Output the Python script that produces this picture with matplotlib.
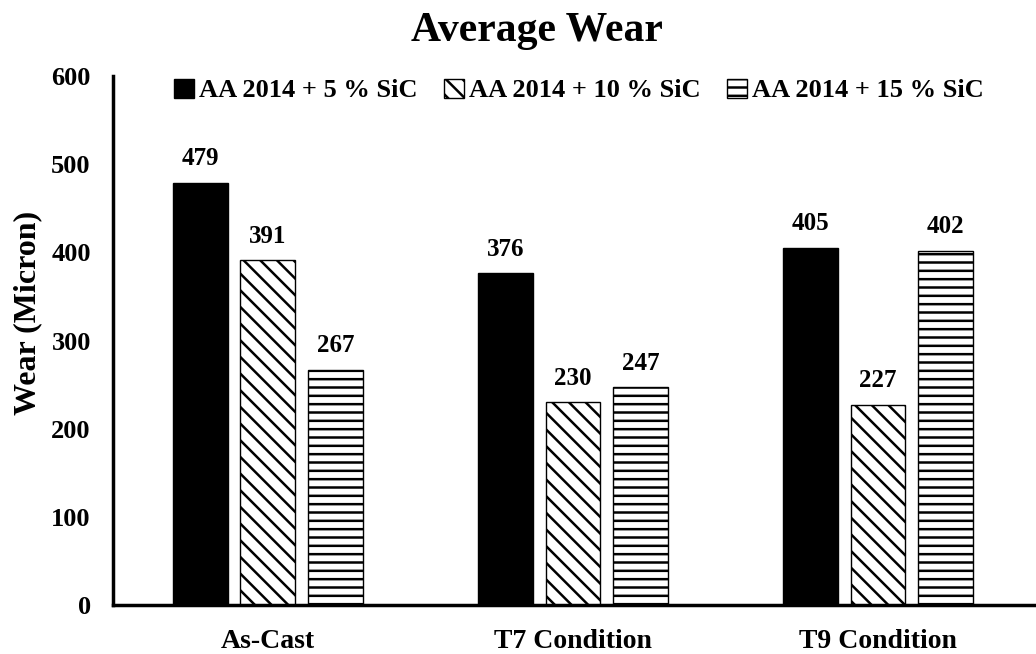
import matplotlib
matplotlib.use("Agg")
import matplotlib.pyplot as plt
import numpy as np

conditions = ["As-Cast", "T7 Condition", "T9 Condition"]
series_names = ["AA 2014 + 5 % SiC", "AA 2014 + 10 % SiC", "AA 2014 + 15 % SiC"]
wear_5 = [479, 376, 405]
wear_10 = [391, 230, 227]
wear_15 = [267, 247, 402]

plt.rcParams["font.family"] = ["Liberation Serif", "DejaVu Serif"]
plt.rcParams["font.weight"] = "bold"
plt.rcParams["hatch.linewidth"] = 1.8

fig = plt.figure(figsize=(10.36, 6.54), dpi=100)
ax = fig.add_axes([113 / 1036, 49 / 654, 1 - 113 / 1036, 529 / 654])

x = np.arange(len(conditions))
width = 0.18
step = 0.222
styles = [
    dict(color="black", edgecolor="black"),
    dict(color="white", edgecolor="black", hatch="\\\\", linewidth=1.0),
    dict(color="white", edgecolor="black", hatch="--", linewidth=1.0),
]
for i, (vals, name) in enumerate(zip([wear_5, wear_10, wear_15], series_names)):
    bars = ax.bar(x + (i - 1) * step, vals, width, label=name, **styles[i])
    ax.bar_label(bars, padding=9, fontsize=18, fontweight="bold")

ax.set_xlim(-0.508, 2.518)
ax.set_ylim(0, 600)
ax.set_yticks(range(0, 601, 100))
ax.set_xticks(x)
ax.set_xticklabels(conditions)
ax.tick_params(axis="y", length=0, labelsize=19, pad=16)
ax.tick_params(axis="x", length=0, labelsize=20, pad=17)
for lab in ax.get_xticklabels() + ax.get_yticklabels():
    lab.set_fontweight("bold")
ax.spines["top"].set_visible(False)
ax.spines["right"].set_visible(False)
ax.spines["left"].set_linewidth(2.5)
ax.spines["bottom"].set_linewidth(2.5)

fig.text(28 / 1036, 1 - 313 / 654, "Wear (Micron)", rotation=90, ha="center",
         va="center", fontsize=23, fontweight="bold")

ax.legend(loc="upper center", bbox_to_anchor=(0.505, 1.04), ncol=3, frameon=False,
          handlelength=0.75, handleheight=0.75, handletextpad=0.2,
          columnspacing=1.0, prop={"weight": "bold", "size": 19})

fig.text(0.518, 0.938, "Average Wear", ha="center", va="baseline",
         fontsize=30, fontweight="bold")

fig.savefig("out.png", dpi=100)
